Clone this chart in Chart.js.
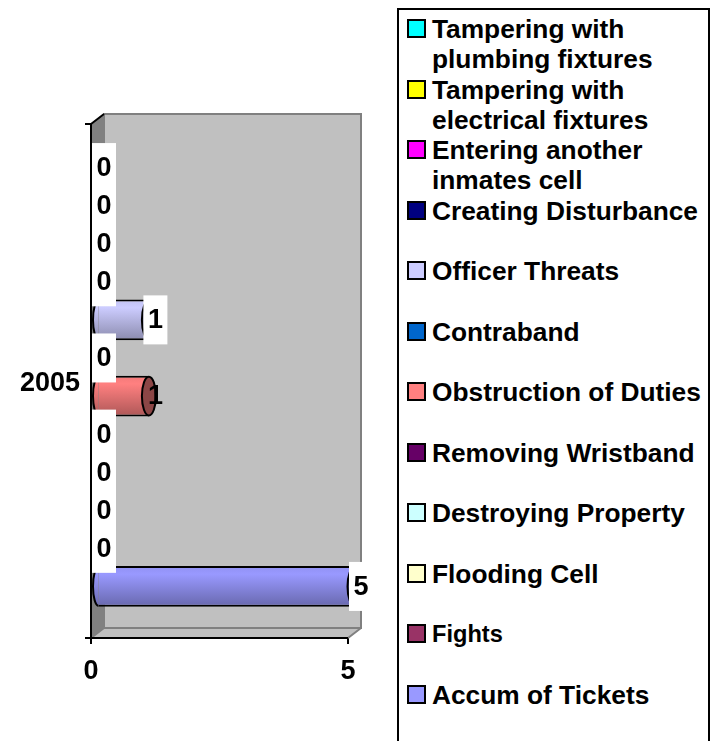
<!DOCTYPE html>
<html>
<head>
<meta charset="utf-8">
<title>Incidents 2005</title>
<script src="https://cdn.jsdelivr.net/npm/chart.js@4"></script>
<style>
  html, body { margin: 0; background: #fff; overflow: hidden; }
  #wrap { position: relative; width: 716px; height: 741px; overflow: hidden; }
  #chart { position: absolute; left: 0; top: 0; }
  #legend {
    position: absolute; left: 397px; top: 8px; width: 309px; height: 780px;
    border: 2px solid #000; background: #fff;
    font: bold 26.3px "Liberation Sans", Arial, sans-serif; color: #000;
  }
  .row { position: absolute; left: 8px; height: 60px; }
  .swatch { position: absolute; left: 0; top: 0; width: 15px; height: 15px; border: 2px solid #000; }
  .name { position: absolute; left: 25px; top: -5px; width: 278px; line-height: 30.3px; }
</style>
</head>
<body>
<div id="wrap">
  <canvas id="chart" width="716" height="741"></canvas>
  <div id="legend"></div>
</div>
<script>
const categories = ["2005"];
const seriesNames = [
  "Tampering with plumbing fixtures",
  "Tampering with electrical fixtures",
  "Entering another inmates cell",
  "Creating Disturbance",
  "Officer Threats",
  "Contraband",
  "Obstruction of Duties",
  "Removing Wristband",
  "Destroying Property",
  "Flooding Cell",
  "Fights",
  "Accum of Tickets",
];
const seriesValues = [0, 0, 0, 0, 1, 0, 1, 0, 0, 0, 0, 5];
const seriesColors = [
  "#00FFFF", "#FFFF00", "#FF00FF", "#000080", "#CCCCFF", "#0066CC",
  "#FF8080", "#660066", "#CCFFFF", "#FFFFCC", "#993366", "#9999FF",
];
const xTicks = [0, 5];

const FONT = '"Liberation Sans", Arial, sans-serif';
const DX = 13, DY = 10; // depth of the fake 3d box
const BAR_DX = 6.5, BAR_DY = 4; // bars sit in the middle of that depth

function shade(hex, f) {
  const n = parseInt(hex.slice(1), 16);
  const c = [n >> 16, (n >> 8) & 255, n & 255].map(v => Math.round(v * f));
  return `rgb(${c[0]},${c[1]},${c[2]})`;
}

function barGradient(ctx, bar, color) {
  const top = bar.y - bar.height / 2;
  const g = ctx.createLinearGradient(0, top, 0, top + bar.height);
  g.addColorStop(0, shade(color, 0.95));
  g.addColorStop(0.2, color);
  g.addColorStop(1, shade(color, 0.68));
  return g;
}

const box3d = {
  id: "box3d",
  beforeDatasetsDraw(chart) {
    const { ctx, chartArea: a } = chart;
    ctx.save();
    // floor
    ctx.fillStyle = "#C0C0C0";
    ctx.beginPath();
    ctx.moveTo(a.left, a.bottom);
    ctx.lineTo(a.left + DX, a.bottom - DY);
    ctx.lineTo(a.right + DX, a.bottom - DY);
    ctx.lineTo(a.right, a.bottom);
    ctx.closePath();
    ctx.fill();
    // side wall
    ctx.fillStyle = "#808080";
    ctx.beginPath();
    ctx.moveTo(a.left, a.top);
    ctx.lineTo(a.left + DX, a.top - DY);
    ctx.lineTo(a.left + DX, a.bottom - DY);
    ctx.lineTo(a.left, a.bottom);
    ctx.closePath();
    ctx.fill();
    // back wall
    ctx.fillStyle = "#C0C0C0";
    ctx.strokeStyle = "#808080";
    ctx.lineWidth = 2;
    ctx.fillRect(a.left + DX, a.top - DY, a.width, a.height);
    ctx.strokeRect(a.left + DX, a.top - DY, a.width, a.height);
    ctx.beginPath();
    ctx.moveTo(a.right, a.bottom);
    ctx.lineTo(a.right + DX, a.bottom - DY);
    ctx.moveTo(a.left, a.bottom);
    ctx.lineTo(a.left + DX, a.bottom - DY);
    ctx.stroke();
    // axis edges over the walls
    ctx.strokeStyle = "#000";
    ctx.beginPath();
    ctx.moveTo(a.left, a.top);
    ctx.lineTo(a.left + DX, a.top - DY);
    ctx.moveTo(a.left, a.top);
    ctx.lineTo(a.left, a.bottom);
    ctx.moveTo(a.left - 6, a.bottom);
    ctx.lineTo(a.right, a.bottom);
    ctx.stroke();
    ctx.restore();

    ctx.save();
    ctx.translate(BAR_DX, -BAR_DY);
    chart.data.datasets.forEach((ds, i) => {
      const bar = chart.getDatasetMeta(i).data[0];
      bar.options = Object.assign({}, bar.options, {
        backgroundColor: barGradient(ctx, bar, seriesColors[i]),
      });
    });
  },
  afterDatasetsDraw(chart) {
    const { ctx } = chart;
    chart.data.datasets.forEach((ds, i) => {
      const bar = chart.getDatasetMeta(i).data[0];
      if (!ds.data[0]) return;
      const ry = bar.height / 2 - 1;
      ctx.lineWidth = 2;
      ctx.strokeStyle = "#000";
      // rounded start
      ctx.fillStyle = barGradient(ctx, bar, seriesColors[i]);
      ctx.beginPath();
      ctx.ellipse(bar.base, bar.y, 5.5, ry, 0, Math.PI / 2, Math.PI * 1.5);
      ctx.fill();
      ctx.stroke();
      // end cap
      ctx.fillStyle = shade(seriesColors[i], 0.55);
      ctx.beginPath();
      ctx.ellipse(bar.x, bar.y, 7, ry, 0, 0, Math.PI * 2);
      ctx.fill();
      ctx.stroke();
    });
    ctx.restore();

    // value labels, white boxes on top of everything
    ctx.save();
    ctx.font = `bold 27px ${FONT}`;
    ctx.textAlign = "center";
    ctx.textBaseline = "middle";
    chart.data.datasets.forEach((ds, i) => {
      const bar = chart.getDatasetMeta(i).data[0];
      const cy = bar.y - BAR_DY;
      if (ds.label !== "Obstruction of Duties") {
        ctx.fillStyle = "#fff";
        ctx.fillRect(bar.x + 1, cy - 24.5, 24, 49);
      }
    });
    chart.data.datasets.forEach((ds, i) => {
      const bar = chart.getDatasetMeta(i).data[0];
      ctx.fillStyle = "#000";
      ctx.fillText(String(ds.data[0]), bar.x + 13, bar.y - BAR_DY + 1);
    });
    ctx.restore();
  },
};

new Chart(document.getElementById("chart"), {
  type: "bar",
  data: {
    labels: categories,
    datasets: seriesNames.map((name, i) => ({
      label: name,
      data: [seriesValues[i]],
      backgroundColor: seriesColors[i],
      borderColor: "#000",
      borderWidth: { top: 2, bottom: 2, left: 0, right: 0 },
      borderSkipped: false,
      clip: false,
    })),
  },
  options: {
    indexAxis: "y",
    responsive: false,
    animation: false,
    categoryPercentage: 0.889,
    barPercentage: 1.07,
    layout: { padding: { left: 0, top: 124, right: 368, bottom: 0 } },
    plugins: { legend: { display: false }, tooltip: { enabled: false } },
    scales: {
      x: {
        min: xTicks[0],
        max: xTicks[1],
        afterFit(scale) { scale.height = 103; },
        afterBuildTicks(scale) { scale.ticks = xTicks.map(v => ({ value: v })); },
        border: { color: "#000", width: 2 },
        grid: { drawOnChartArea: false, color: "#000", lineWidth: 2, tickLength: 6 },
        ticks: { color: "#000", padding: 11, maxRotation: 0, font: { family: FONT, size: 27, weight: "bold" } },
      },
      y: {
        afterFit(scale) { scale.width = 91; },
        border: { color: "#000", width: 2 },
        grid: { drawOnChartArea: false, color: "#000", lineWidth: 2, tickLength: 6 },
        ticks: { color: "#000", padding: 5, labelOffset: 3, font: { family: FONT, size: 27, weight: "bold" } },
      },
    },
  },
  plugins: [box3d],
});

// legend is a plain html list, each entry takes two text lines
const legend = document.getElementById("legend");
seriesNames.forEach((name, i) => {
  const row = document.createElement("div");
  row.className = "row";
  row.style.top = (9 + i * 60.5) + "px";
  const swatch = document.createElement("div");
  swatch.className = "swatch";
  swatch.style.background = seriesColors[i];
  const label = document.createElement("div");
  label.className = "name";
  label.textContent = name;
  if (name === "Fights") label.style.fontSize = "23.6px";
  row.append(swatch, label);
  legend.append(row);
});
</script>
</body>
</html>
